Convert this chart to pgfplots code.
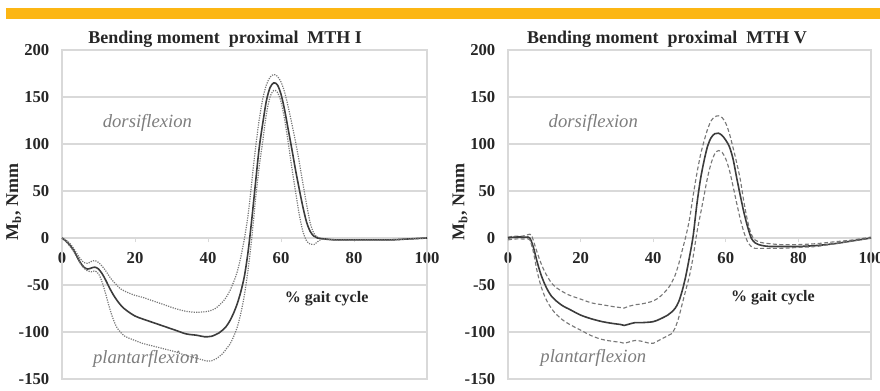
\documentclass[border=0pt]{standalone}
\usepackage{fontspec}
\setmainfont{Liberation Serif}
\usepackage{pgfplots}
\pgfplotsset{compat=1.18}
\definecolor{barorange}{RGB}{252,182,20}
\definecolor{gridgray}{RGB}{217,217,217}
\definecolor{meancol}{RGB}{60,60,60}
\definecolor{sdcol}{RGB}{120,120,120}
\definecolor{annot}{RGB}{125,125,125}
\definecolor{txt}{RGB}{38,38,38}

\pgfplotsset{
  mtstyle/.style={
    scale only axis, height=246.75pt,
    xmin=0, xmax=100, ymin=-150, ymax=200,
    axis x line*=middle, axis y line*=left,
    axis line style={gridgray, line width=0.8pt},
    hide obscured x ticks=false, hide obscured y ticks=false,
    xtick={0,20,40,60,80,100}, xticklabels={0,20,40,60,80,100},
    ytick={-150,-100,-50,0,50,100,150,200},
    yticklabels={-150,-100,-50,0,50,100,150,200},
    ymajorgrids, grid style={gridgray, line width=0.8pt},
    ytick style={draw=none},
    xtick style={gridgray, line width=0.6pt},
    tick align=outside, major tick length=3pt,
    ticklabel style={font=\bfseries\fontsize{12.5}{13}\selectfont, text=txt},
    xticklabel style={yshift=-4.5pt},
    yticklabel style={xshift=-3pt},
    title style={font=\bfseries\fontsize{13.5}{14}\selectfont, text=txt, anchor=base, yshift=-1pt},
    ylabel={M\textsubscript{b}, Nmm},
    ylabel style={font=\bfseries\fontsize{13.5}{14}\selectfont, text=txt, at={(axis description cs:-0.132,0.538)}, anchor=center},
    clip=false,
  },
  meanline/.style={meancol, line width=1.2pt, smooth},
}

\begin{document}
\begin{tikzpicture}
\path[use as bounding box] (0,0) rectangle (660pt,292.5pt);
\fill[barorange] (4.5pt,278.25pt) rectangle (660pt,286.3pt);

% ---------------- Left panel ----------------
\begin{axis}[mtstyle, width=273.75pt, at={(46.5pt,8.25pt)}, anchor=south west,
  title={Bending moment\ \ proximal\ \ MTH I},
  title style={at={(rel axis cs:0.447,1)}},
  sdline/.style={sdcol, line width=0.9pt, dash pattern=on 0.9pt off 0.9pt, smooth}]
\draw[gridgray, line width=0.8pt] (rel axis cs:0,0) rectangle (rel axis cs:1,1);
% upper (mean + SD)
\addplot[sdline] coordinates {
(0,0)(1,-2)(2,-5)(3,-10)(4,-16)(5,-22)(6,-26)(7,-27)(8,-25)(9,-24)(10,-26)(11,-30)(12,-35)(13,-41)(14,-46)(15,-50)(16,-54)(18,-58)(20,-61)(22,-63)(25,-67)(28,-71)(31,-75)(34,-78)(37,-79)(40,-78)(42,-75)(44,-68)(45,-63)(46,-56)(47,-47)(48,-36)(49,-20)(50,0)(51,25)(52,60)(53,95)(54,125)(55,148)(56,163)(57,171)(58,174)(59,172)(60,166)(61,155)(62,139)(63,121)(64,102)(65,81)(66,58)(67,36)(68,16)(69,5)(70,1)(71,-1)(72,-1.5)(75,-2)(80,-2)(85,-2)(90,-2)(95,-1)(100,0)};
% mean
\addplot[meanline] coordinates {
(0,0)(1,-3)(2,-7)(3,-12)(4,-19)(5,-26)(6,-31)(7,-33)(8,-32)(9,-31)(10,-33)(11,-38)(12,-45)(13,-53)(14,-60)(15,-66)(16,-71)(17,-75)(18,-78)(20,-83)(22,-86)(25,-90)(28,-94)(31,-98)(34,-102)(37,-103.5)(39,-105)(41,-104.5)(43,-101)(44,-98)(45,-94)(46,-88)(47,-80)(48,-70)(49,-57)(50,-40)(51,-14)(52,20)(53,58)(54,95)(55,122)(56,146)(57,160)(58,165)(59,163)(60,153)(61,136)(62,115)(63,94)(64,72)(65,52)(66,33)(67,17)(68,7)(69,2)(70,0)(72,-1)(75,-2)(80,-2)(85,-2)(90,-2)(95,-1)(100,0)};
% lower (mean - SD)
\addplot[sdline] coordinates {
(0,0)(1,-3)(2,-8)(3,-13)(4,-20)(5,-27)(6,-32)(7,-35)(8,-36)(9,-35)(10,-38)(11,-47)(12,-60)(13,-74)(14,-86)(15,-95)(16,-100)(17,-104)(18,-106)(20,-109)(22,-112)(25,-115)(28,-118)(31,-121)(34,-125)(37,-128)(40,-131)(42,-129)(44,-123)(45,-118)(46,-113)(47,-105)(48,-95)(49,-80)(50,-60)(51,-33)(52,0)(53,40)(54,75)(55,103)(56,132)(57,150)(58,157)(59,155)(60,145)(61,126)(62,101)(63,74)(64,49)(65,25)(66,7)(67,-3)(68,-6.5)(69,-7)(70,-4)(71,-1.5)(72,-1)(75,-2)(80,-2)(85,-2)(90,-2)(95,-1)(100,0)};
\node[font=\bfseries\fontsize{12}{13}\selectfont, text=txt] at (axis cs:72.5,-65) {\% gait cycle};
\node[font=\itshape\fontsize{14}{15}\selectfont, text=annot] at (axis cs:23.4,122) {dorsiflexion};
\node[font=\itshape\fontsize{14}{15}\selectfont, text=annot] at (axis cs:23,-129) {plantarflexion};
\end{axis}

% ---------------- Right panel ----------------
\begin{axis}[mtstyle, width=272.25pt, at={(381pt,8.25pt)}, anchor=south west,
  title={Bending moment\ \ proximal\ \ MTH V},
  title style={at={(rel axis cs:0.438,1)}},
  sdline/.style={sdcol, line width=0.85pt, dash pattern=on 3pt off 1.8pt, smooth}]
\draw[gridgray, line width=0.8pt] (rel axis cs:0,0) rectangle (rel axis cs:1,1);
% upper
\addplot[sdline] coordinates {
(0,1)(2,2)(4,2)(5,3)(6,4)(6.5,3)(7,-3)(8,-15)(9,-26)(10,-35)(11,-42)(12,-48)(13,-52)(15,-57)(17,-61)(20,-65)(23,-69)(26,-71)(29,-73)(31,-74)(32,-74.5)(33,-73)(35,-71)(37,-70)(40,-67)(42,-62)(44,-54)(45,-48)(46,-40)(47,-28)(48,-13)(49,2)(50,20)(51,45)(52,68)(53,88)(54,103)(55,116)(56,125)(57,129)(58,130)(59,128)(60,122)(61,111)(62,96)(63,80)(64,62)(65,38)(66,18)(67,4)(68,-2)(69,-4)(70,-5)(72,-6)(75,-7)(80,-7)(85,-6)(90,-4)(95,-2)(100,1)};
% mean
\addplot[meanline] coordinates {
(0,0)(2,1)(4,1)(5,1)(6,0)(7,-10)(8,-25)(9,-38)(10,-48)(11,-56)(12,-62)(13,-66)(15,-72)(17,-76)(20,-82)(23,-86)(26,-89)(29,-91)(31,-92)(32,-93)(33,-92)(35,-90)(37,-90)(40,-89)(42,-86)(44,-82)(45,-79)(46,-75)(47,-68)(48,-56)(49,-40)(50,-20)(51,2)(52,35)(53,62)(54,82)(55,98)(56,107)(57,111)(58,111.5)(59,109)(60,104)(61,97)(62,84)(63,64)(64,45)(65,27)(66,12)(67,0)(68,-5)(69,-7)(70,-8)(72,-9)(75,-9)(80,-9)(85,-8)(90,-6)(95,-3)(100,0)};
% lower
\addplot[sdline] coordinates {
(0,-2)(2,-1)(4,-1)(5,-1)(6,-2)(7,-15)(8,-35)(9,-50)(10,-61)(11,-69)(12,-75)(13,-80)(15,-87)(17,-92)(20,-98)(23,-104)(26,-108)(29,-110)(31,-111)(32,-112)(33,-111)(35,-109)(37,-110)(39,-112)(40,-112)(42,-108)(44,-104)(45,-102)(46,-96)(47,-85)(48,-70)(49,-55)(50,-40)(51,-20)(52,5)(53,25)(54,45)(55,65)(56,80)(57,90)(58,93)(59,91)(60,84)(61,72)(62,55)(63,37)(64,20)(65,6)(66,-4)(67,-9)(68,-11)(70,-11)(72,-11)(75,-11)(80,-10)(85,-9)(90,-6)(95,-3)(100,0)};
\node[font=\bfseries\fontsize{12}{13}\selectfont, text=txt] at (axis cs:73,-63) {\% gait cycle};
\node[font=\itshape\fontsize{14}{15}\selectfont, text=annot] at (axis cs:23.5,122) {dorsiflexion};
\node[font=\itshape\fontsize{14}{15}\selectfont, text=annot] at (axis cs:23.5,-128) {plantarflexion};
\end{axis}
\end{tikzpicture}
\end{document}
